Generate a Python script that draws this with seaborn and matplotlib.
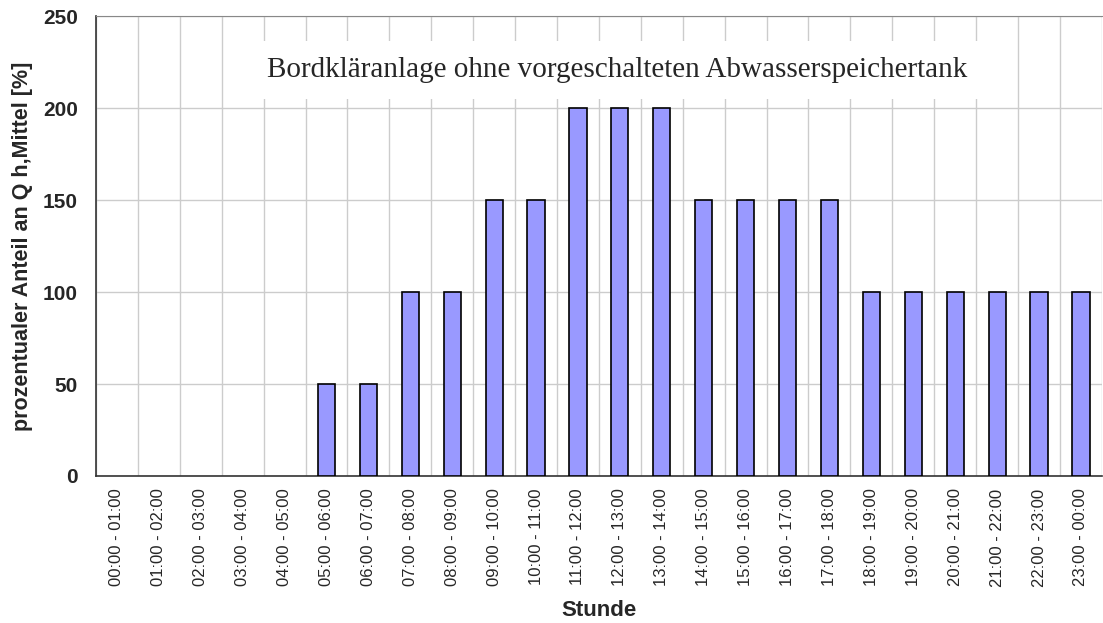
import matplotlib
matplotlib.use("Agg")
import matplotlib.pyplot as plt
import numpy as np
import pandas as pd
import seaborn as sns

# Stundenintervalle und prozentualer Anteil an Q h,Mittel
stunden = [f"{h:02d}:00 - {(h + 1) % 24:02d}:00" for h in range(24)]
anteil = [0, 0, 0, 0, 0, 50, 50, 100, 100, 150, 150, 200,
          200, 200, 150, 150, 150, 150, 100, 100, 100, 100, 100, 100]
y_ticks = [0, 50, 100, 150, 200, 250]

df = pd.DataFrame({"Stunde": stunden, "Anteil": anteil})

sns.set_style("white")
plt.rcParams["font.family"] = ["Liberation Sans", "DejaVu Sans"]

fig = plt.figure(figsize=(11.03, 6.23), dpi=100)
ax = fig.add_axes([0.087, 0.236, 0.912, 0.738])

sns.barplot(data=df, x="Stunde", y="Anteil", color="#9999ff", saturation=1,
            width=0.41, edgecolor="black", linewidth=1.2, ax=ax, zorder=3)

# Balken mit Wert 0 ohne Rand (wie im Original nicht sichtbar)
for patch in ax.patches:
    if patch.get_height() == 0:
        patch.set_linewidth(0)

ax.set_xlim(-0.5, len(stunden) - 0.5)
ax.set_ylim(0, 250)
ax.set_yticks(y_ticks)
ax.set_yticklabels([str(v) for v in y_ticks], fontsize=15, fontweight="bold")

# Kategorie-Grenzen als Nebenticks mit Gitterlinien
ax.set_xticks(np.arange(-0.5, len(stunden), 1.0), minor=True)
ax.set_xticks(range(len(stunden)))
ax.set_xticklabels(stunden, rotation=90, fontsize=12)
ax.tick_params(axis="x", which="major", length=0, pad=9)
ax.tick_params(axis="x", which="minor", length=5, width=1, color="#333333", direction="out")
ax.tick_params(axis="y", length=5, width=1, color="#333333", direction="out", pad=8)

ax.grid(axis="x", which="minor", color="#cccccc", linewidth=1, zorder=0)
ax.grid(axis="y", which="major", color="#cccccc", linewidth=1, zorder=0)
ax.set_axisbelow(True)

for side in ["left", "bottom"]:
    ax.spines[side].set_color("#333333")
    ax.spines[side].set_linewidth(1.2)
ax.spines["top"].set_color("#888888")
ax.spines["right"].set_visible(False)

ax.set_xlabel("Stunde", fontsize=16, fontweight="bold", labelpad=9.5)
ax.set_ylabel("prozentualer Anteil an Q h,Mittel [%]", fontsize=15.5,
              fontweight="bold", labelpad=7)

ax.text(0.518, 0.882, "Bordkläranlage ohne vorgeschalteten Abwasserspeichertank",
        transform=ax.transAxes, ha="center", va="center", fontsize=21,
        family=["Liberation Serif", "DejaVu Serif"], zorder=5,
        bbox=dict(boxstyle="square,pad=0.55", facecolor="white", edgecolor="none"))

fig.savefig("out.png", dpi=100)
